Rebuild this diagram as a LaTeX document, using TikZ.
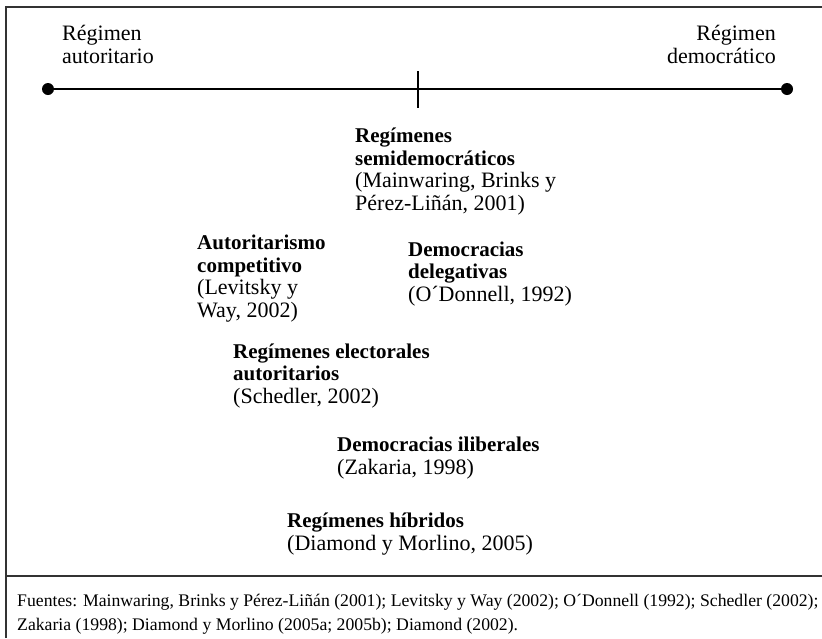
\documentclass[tikz,border=0pt]{standalone}
\usepackage{fontspec}
\setmainfont{Liberation Serif}
\usetikzlibrary{positioning}

\newcommand{\rtitle}[1]{{\fontsize{21}{22.4}\selectfont\bfseries #1}}

\begin{document}
\begin{tikzpicture}[x=1pt,y=-1pt,
    frameline/.style={draw=black!80,line width=1.4pt},
    dot/.style={circle,fill=black,inner sep=0pt,minimum size=12pt},
    regime/.style={anchor=base west,align=left,inner sep=0pt,font=\fontsize{22}{22.4}\selectfont},
    sources/.style={anchor=base west,align=left,inner sep=0pt,font=\fontsize{17.7}{24}\selectfont}]

  \useasboundingbox (0,0) rectangle (822,638);

  \draw [frameline] (6,638) -- (6,7) -- (822,7);
  \draw [frameline] (6,576) -- (822,576);

  \node [regime] (A_text) at (62,63) {Régimen\\autoritario};
  \node [regime,anchor=base east,align=right] (D_text) at (776,63) {Régimen\\democrático};

  \node [dot] (A) at (48,89) {};
  \node [dot] (D) at (787,89) {};
  \coordinate (tick_top) at (418,71);
  \coordinate (tick_bot) at (418,108);

  \path [draw,line width=1.1pt]
    (A)        edge (D)
    (tick_top) edge (tick_bot);

  \node [regime] (semidem) at (355,210)
    {\rtitle{Regímenes}\\\rtitle{semidemocráticos}\\(Mainwaring, Brinks y\\Pérez-Liñán, 2001)};
  \node [regime] (autcomp) at (197,317)
    {\rtitle{Autoritarismo}\\\rtitle{competitivo}\\(Levitsky y\\Way, 2002)};
  \node [regime] (deleg) at (408,301)
    {\rtitle{Democracias}\\\rtitle{delegativas}\\(O´Donnell, 1992)};
  \node [regime] (elect) at (233,403)
    {\rtitle{Regímenes electorales}\\\rtitle{autoritarios}\\(Schedler, 2002)};
  \node [regime] (ilib) at (337,474)
    {\rtitle{Democracias iliberales}\\(Zakaria, 1998)};
  \node [regime] (hibr) at (287,550)
    {\rtitle{Regímenes híbridos}\\(Diamond y Morlino, 2005)};

  \node [sources] (fuentes) at (17,630)
    {Fuentes: Mainwaring, Brinks y Pérez-Liñán (2001); Levitsky y Way (2002); O´Donnell (1992); Schedler (2002);\\Zakaria (1998); Diamond y Morlino (2005a; 2005b); Diamond (2002).};

\end{tikzpicture}
\end{document}
